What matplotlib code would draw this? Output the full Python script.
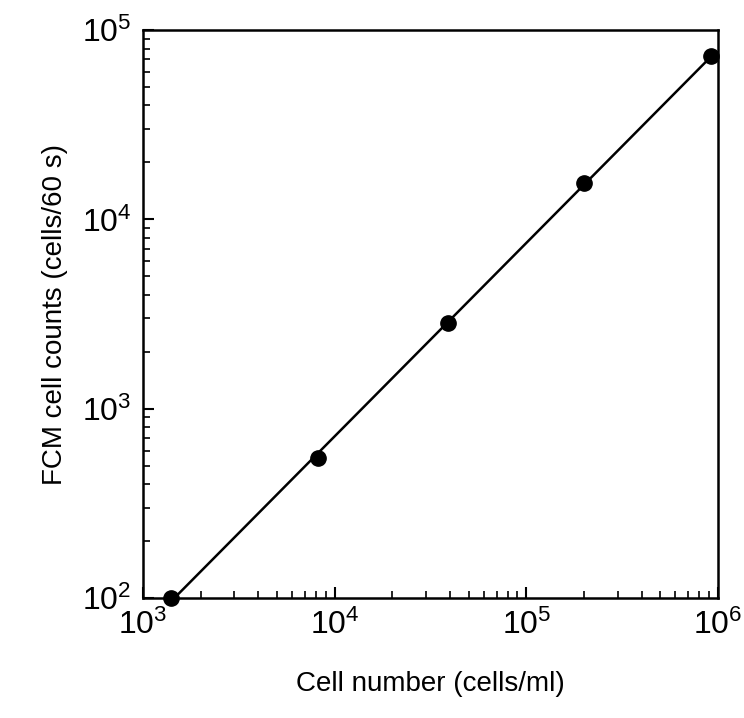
import matplotlib.pyplot as plt
import numpy as np

cells = [1400, 8200, 39000, 200000, 920000]
counts = [100, 550, 2850, 15500, 73000]

plt.rcParams['font.family'] = ['Liberation Sans', 'DejaVu Sans']
fig = plt.figure(figsize=(7.44, 7.18), dpi=100)
ax = fig.add_axes([0.192, 0.167, 0.773, 0.791])

fit = np.polyfit(np.log10(cells), np.log10(counts), 1)
xl = np.array([cells[0], cells[-1]])
ax.plot(xl, 10**np.polyval(fit, np.log10(xl)), color='black', lw=1.8)
ax.plot(cells, counts, 'o', color='black', ms=11, clip_on=False, zorder=3)

ax.set_xscale('log')
ax.set_yscale('log')
ax.set_xlim(1000, 1e6)
ax.set_ylim(100, 1e5)
ax.set_xlabel('Cell number (cells/ml)', fontsize=20, labelpad=22)
ax.set_ylabel('FCM cell counts (cells/60 s)', fontsize=20, labelpad=10)
ax.tick_params(which='major', labelsize=23, length=8, width=1.5, direction='in', pad=8)
ax.tick_params(which='minor', length=5, width=1.2, direction='in')
for s in ax.spines.values():
    s.set_linewidth(1.8)

fig.savefig('out.png')
